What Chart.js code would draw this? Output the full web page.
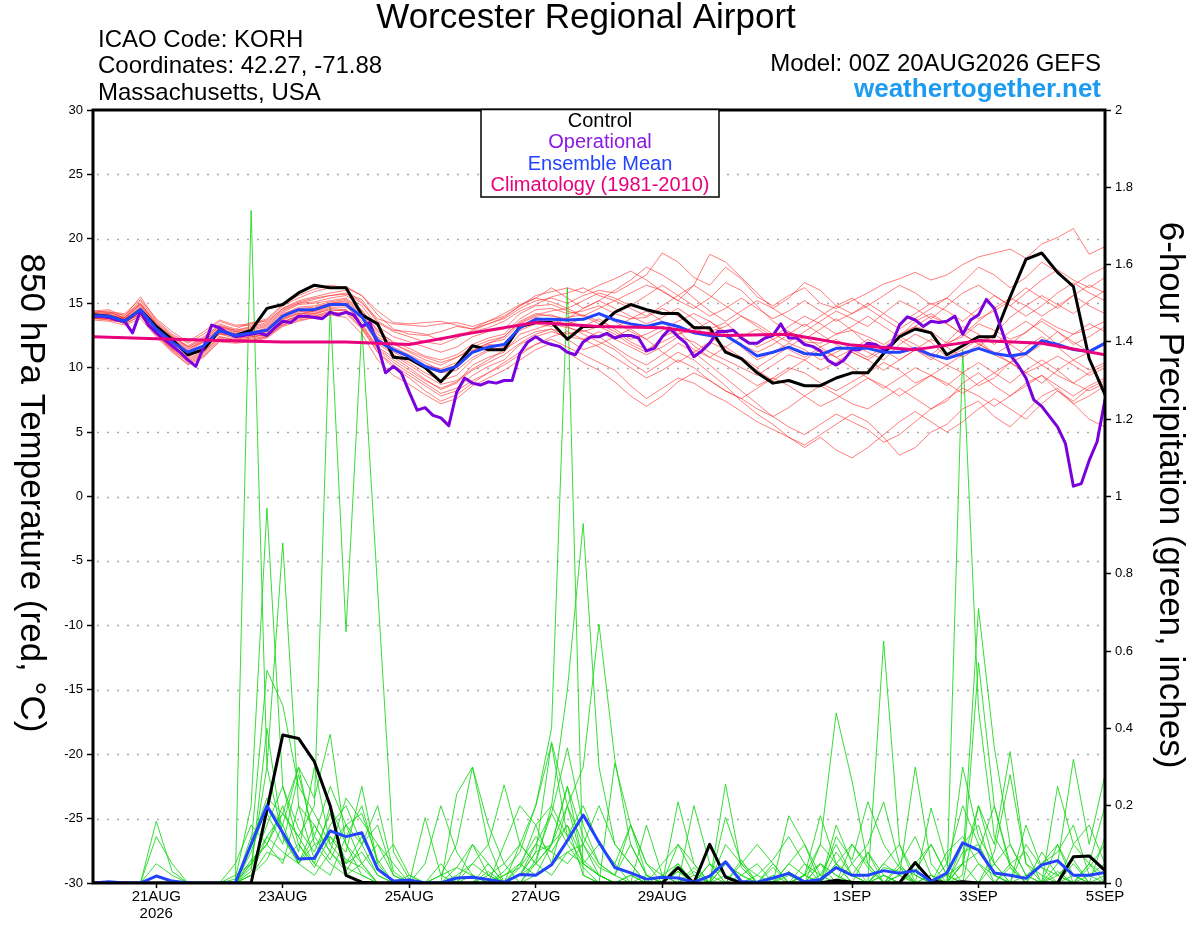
<!DOCTYPE html>
<html>
<head>
<meta charset="utf-8">
<script src="https://cdn.jsdelivr.net/npm/chart.js@4.4.1/dist/chart.umd.min.js"></script>
<style>
  html, body { margin: 0; padding: 0; background: #fff; }
  canvas { display: block; }
</style>
</head>
<body>
<canvas id="meteogram" width="1200" height="927"></canvas>
<script>
// x axis: hours after 00Z 20AUG2026
const tickHours = [24, 72, 120, 168, 216, 288, 336, 384];
const tickLabels = [['21AUG', '2026'], '23AUG', '25AUG', '27AUG', '29AUG', '1SEP', '3SEP', '5SEP'];
const tempTicks = [30, 25, 20, 15, 10, 5, 0, -5, -10, -15, -20, -25, -30];
const precipTicks = [2, 1.8, 1.6, 1.4, 1.2, 1, 0.8, 0.6, 0.4, 0.2, 0];

// 850 hPa temperature, 6-hourly (control, ensemble mean)
const tempControl = [
  14.1, 14.0, 13.6, 14.5, 13.2, 12.2, 11.0, 11.4, 12.9, 12.5, 12.9, 14.6, 14.9, 15.8, 16.4, 16.2, 16.2,
  14.1, 13.4, 10.8, 10.7, 10.0, 8.9, 10.2, 11.7, 11.4, 11.4, 13.2, 13.5, 13.5, 12.2, 13.2, 13.2,
  14.3, 14.9, 14.5, 14.2, 14.2, 13.1, 13.1, 11.2, 10.7, 9.6, 8.8, 9.0, 8.6, 8.6, 9.2, 9.6,
  9.6, 11.1, 12.4, 13.0, 12.7, 11.0, 11.7, 12.4, 12.4, 15.5, 18.4, 18.9, 17.4, 16.3, 10.7, 7.9
];
const tempMean = [
  14.05, 14.0, 13.6, 14.5, 13.0, 12.0, 11.2, 11.7, 12.9, 12.5, 12.7, 12.9, 14.0, 14.5, 14.5, 14.9, 14.9,
  13.95, 12.1, 11.4, 10.85, 10.1, 9.7, 10.1, 11.2, 11.6, 11.8, 13.1, 13.75, 13.75, 13.7, 13.75, 14.2,
  13.7, 13.4, 13.2, 13.5, 13.2, 12.7, 12.5, 12.5, 11.75, 10.9, 11.2, 11.6, 11.1, 11.0, 11.5, 11.5,
  11.5, 11.2, 11.2, 11.5, 11.0, 10.7, 11.1, 11.5, 11.1, 10.9, 11.1, 12.1, 11.8, 11.4, 11.25, 11.9
];
// operational run, 3-hourly
const tempOper = [
  14.0, 14.0, 13.9, 13.7, 13.6, 12.7, 14.4, 13.3, 12.7, 12.2, 11.7, 11.2, 10.6, 10.1, 11.6, 13.3, 13.1,
  12.7, 12.4, 12.5, 12.6, 12.7, 12.5, 13.1, 13.6, 13.5, 14.0, 14.0, 13.9, 13.8, 14.3, 14.1, 14.3,
  14.1, 13.2, 13.5, 11.75, 9.6, 10.1, 9.6, 8.1, 6.7, 6.9, 6.3, 6.1, 5.5, 8.1, 9.2, 8.8,
  8.65, 8.9, 8.8, 9.0, 9.0, 11.1, 12.0, 12.4, 12.0, 11.8, 11.65, 11.2, 11.0, 12.0, 12.4, 12.4,
  12.66, 12.3, 12.5, 12.5, 12.3, 11.3, 11.5, 12.4, 13.05, 12.4, 11.9, 10.85, 11.3, 11.9, 12.8, 12.8,
  12.9, 12.3, 11.9, 11.9, 12.3, 12.5, 13.4, 12.3, 12.3, 11.8, 11.65, 11.3, 10.55, 10.2, 10.6,
  11.4, 11.4, 11.9, 11.8, 11.4, 11.8, 13.3, 13.95, 13.7, 13.2, 13.6, 13.5, 13.6, 14.0, 12.6, 13.7,
  14.1, 15.3, 14.6, 12.8, 11.0, 10.2, 9.2, 7.5, 7.0, 6.2, 5.4, 4.1, 0.8, 1.0, 2.8, 4.25, 7.5
];
// 1981-2010 climatology, daily
const tempClimo = [12.4, 12.25, 12.1, 12.0, 12.0, 11.8, 12.7, 13.5, 13.2, 13.1, 12.5, 12.6, 11.75, 11.4, 12.1, 11.9, 11.0];

// ensemble members, 6-hourly
const tempMembers = [
  [14.2,14.3,13.9,15.2,13.6,12.5,11.6,12.3,13.4,13.0,13.5,13.6,14.6,15.2,15.5,15.8,16.0,
   15.1,13.5,12.8,12.4,12.0,11.8,12.3,12.9,13.4,13.8,14.6,15.2,15.4,15.0,15.6,16.0,
   15.8,16.5,17.2,18.9,18.2,17.0,16.4,17.8,16.9,15.5,14.8,15.6,16.2,15.0,14.6,15.2,
   15.8,16.5,16.9,17.4,16.8,17.2,18.0,18.6,18.9,19.2,18.5,19.6,20.1,20.8,18.8,19.4],
  [13.8,13.9,13.4,14.0,12.6,11.4,10.4,11.0,12.2,12.0,12.1,12.4,13.3,13.8,14.0,14.3,14.2,
   13.0,11.2,10.2,9.4,8.6,7.8,8.2,9.0,9.6,10.2,11.0,11.8,12.2,11.6,11.0,10.4,
   9.8,8.6,7.6,8.4,9.2,8.8,8.0,7.4,6.6,5.8,5.2,4.6,4.0,4.8,5.6,6.4,
   5.8,4.6,3.2,3.8,5.0,5.6,6.8,7.4,6.2,5.4,6.6,7.8,8.4,7.2,6.0,5.4],
  [14.1,14.0,13.8,14.8,13.2,12.3,11.5,12.0,13.1,12.8,12.9,13.2,14.3,14.9,15.0,15.2,15.4,
   14.5,12.8,12.0,11.5,10.9,10.6,11.0,11.8,12.3,12.6,13.8,14.5,14.6,14.2,14.4,14.8,
   14.2,13.8,13.9,14.6,14.0,13.2,13.0,13.5,12.4,11.6,12.2,12.8,12.0,11.9,12.6,12.9,
   12.4,11.8,12.6,13.2,12.8,11.9,12.4,13.4,12.9,12.2,12.7,13.8,13.1,12.6,13.0,13.6],
  [13.9,13.7,13.5,14.2,12.8,11.6,10.8,11.5,12.6,12.3,12.4,12.6,13.6,14.0,14.1,14.6,14.5,
   13.4,11.6,10.8,10.0,9.1,8.3,8.8,10.2,10.8,11.2,12.6,13.0,13.4,13.1,12.8,13.2,
   12.6,11.8,11.2,12.4,12.9,11.7,10.8,10.2,9.4,8.6,9.2,10.0,9.6,8.8,8.2,8.9,
   9.6,10.4,9.8,8.8,9.4,10.2,9.6,8.6,9.2,10.4,11.0,10.2,9.4,8.8,9.6,10.2],
  [14.4,14.5,14.0,15.5,13.7,12.6,11.9,12.6,13.6,13.2,13.3,13.7,14.8,15.4,15.9,16.2,16.3,
   15.6,14.1,13.0,12.6,12.5,12.8,13.2,13.0,13.4,13.9,14.8,15.6,15.9,16.2,15.8,16.4,
   16.9,17.5,16.8,15.9,15.2,14.6,15.4,16.6,16.0,14.8,13.6,12.8,12.2,13.0,13.8,12.9,
   11.8,11.2,12.4,13.6,14.2,13.4,12.6,11.8,12.6,13.9,14.8,15.6,14.9,14.2,15.2,16.0],
  [14.0,13.8,13.7,14.6,13.0,11.9,11.0,11.8,12.8,12.6,12.5,12.8,13.9,14.4,14.3,14.8,14.9,
   14.0,12.2,11.0,10.4,9.6,9.0,9.4,10.6,11.3,11.6,12.9,13.4,13.2,13.9,14.1,13.6,
   13.1,13.8,14.4,13.6,12.6,12.9,13.6,12.8,11.6,10.6,11.2,11.9,11.4,10.6,11.2,11.8,
   11.2,10.6,11.8,12.6,12.0,10.8,11.4,12.2,11.0,10.4,11.6,12.4,11.6,10.6,11.2,12.0],
  [13.7,13.6,13.3,13.8,12.4,11.2,10.3,10.9,12.0,11.9,12.0,12.3,13.2,13.6,13.9,14.1,13.9,
   12.6,10.6,9.4,8.7,7.9,7.2,7.6,8.6,9.2,9.8,10.6,11.4,11.9,11.2,10.4,9.8,
   8.9,7.8,7.0,7.8,8.9,9.6,9.0,8.2,7.6,6.8,6.2,6.9,7.8,8.6,7.9,7.2,
   6.8,7.6,8.4,7.6,6.8,7.4,8.8,9.6,8.6,7.8,8.6,9.4,8.2,7.2,7.8,8.6],
  [14.3,14.2,14.1,15.0,13.4,12.2,11.4,12.2,13.2,12.9,13.1,13.4,14.5,15.0,15.3,15.6,15.7,
   15.3,13.6,12.9,12.8,12.6,12.1,12.6,12.8,13.1,13.6,14.4,14.9,15.5,15.8,16.2,15.6,
   15.2,15.8,16.4,16.0,15.2,16.4,18.8,18.2,17.0,15.8,14.6,15.4,16.6,16.0,14.8,14.2,
   14.8,15.6,16.4,15.8,14.9,15.4,16.6,17.8,17.2,16.2,17.0,18.2,17.4,16.4,17.2,17.8],
  [14.0,14.1,13.6,14.4,12.9,12.0,11.3,11.6,12.7,12.4,12.6,12.9,13.8,14.3,14.6,15.0,15.1,
   14.2,12.4,11.6,11.0,10.4,9.8,10.2,11.2,11.8,11.7,13.2,13.9,13.6,13.4,13.8,14.2,
   13.6,12.8,12.2,12.9,13.6,14.2,13.6,12.6,11.8,11.2,11.8,12.6,13.4,12.6,11.8,11.2,
   10.6,11.4,12.2,11.4,10.6,11.8,12.6,11.9,11.0,11.8,12.8,13.6,12.8,11.8,12.4,13.2],
  [13.8,13.9,13.6,14.3,12.7,11.5,10.6,11.2,12.4,12.1,12.3,12.6,13.5,14.1,14.4,14.9,14.8,
   13.6,11.9,11.0,10.2,9.4,8.7,9.0,9.9,10.6,11.4,12.2,12.8,13.0,12.6,12.9,12.4,
   11.6,10.8,10.2,11.0,11.9,11.2,10.2,9.2,8.2,7.2,6.2,5.4,4.8,5.6,6.4,5.8,
   5.2,4.2,4.8,5.8,6.8,7.6,8.4,7.8,7.0,7.8,8.8,9.4,8.6,7.8,8.6,9.2],
  [14.2,14.0,13.9,14.9,13.3,12.2,11.3,12.1,13.0,12.7,12.8,13.0,14.1,14.7,14.8,15.1,15.3,
   14.4,12.9,11.9,11.2,10.6,10.2,10.8,11.6,12.1,12.4,13.6,14.2,14.0,13.8,14.6,15.2,
   14.6,14.0,13.4,13.9,14.6,13.8,12.8,13.2,14.0,13.4,12.6,12.0,12.8,13.6,14.4,13.8,
   13.2,14.2,15.2,14.6,13.8,14.8,15.8,16.4,15.6,14.8,15.8,16.8,17.6,16.8,16.2,17.0],
  [13.9,13.8,13.6,14.1,12.5,11.3,10.2,10.8,12.1,12.2,12.2,12.5,13.4,13.9,14.0,14.4,14.5,
   13.2,11.4,10.4,9.6,8.8,8.0,8.4,9.4,10.1,10.6,11.8,12.4,12.8,12.4,12.2,12.8,
   12.2,11.6,11.0,11.6,12.4,12.0,11.2,10.6,10.0,9.4,10.2,11.0,10.6,9.8,10.4,11.2,
   10.6,9.8,10.6,11.4,10.8,10.2,11.0,11.8,11.2,10.4,9.6,10.2,10.9,10.2,9.4,10.0],
  [14.3,14.4,13.8,15.0,13.5,12.4,11.7,12.4,13.3,12.9,13.2,13.5,14.6,15.1,15.4,15.6,15.8,
   15.0,13.8,13.4,13.3,13.2,13.4,13.5,13.2,13.6,14.0,14.8,15.4,16.2,15.4,14.6,15.2,
   16.0,16.8,17.8,17.2,16.4,15.4,14.4,13.6,14.4,15.2,14.6,13.8,13.2,14.0,14.8,15.4,
   14.6,13.8,13.0,13.8,14.6,15.4,14.6,13.8,14.4,15.2,16.2,15.4,14.6,15.6,16.4,15.8],
  [14.0,13.9,13.5,14.5,12.9,11.8,11.1,11.6,12.7,12.5,12.6,12.7,13.7,14.2,14.2,14.7,14.7,
   13.8,12.0,11.2,10.6,10.0,9.6,9.8,10.8,11.4,11.9,13.0,13.6,13.8,13.2,12.6,12.0,
   11.4,10.4,9.6,10.4,11.2,10.6,9.6,8.6,7.4,6.4,5.6,4.6,3.8,4.6,3.6,3.0,
   3.8,4.8,5.8,6.6,5.8,5.0,5.8,6.8,7.6,6.8,6.0,7.2,8.2,7.4,8.4,9.0],
  [14.1,14.2,13.7,14.7,13.1,12.1,11.2,12.0,12.9,12.5,12.7,13.1,14.2,14.6,14.7,15.0,15.2,
   14.3,12.6,11.8,11.3,10.8,10.4,10.8,11.4,11.9,12.2,13.4,14.0,14.1,13.6,13.2,13.8,
   13.0,12.2,12.6,13.2,12.4,11.4,10.8,11.6,12.4,13.0,12.2,11.4,10.8,11.6,12.2,11.4,
   10.8,11.6,12.4,11.8,11.0,12.0,13.2,12.6,11.8,12.8,13.6,12.8,11.8,12.6,13.4,12.8],
  [13.8,13.7,13.5,14.2,12.6,11.5,10.7,11.3,12.4,12.2,12.4,12.6,13.5,14.0,14.2,14.5,14.4,
   13.3,11.5,10.6,9.8,9.0,8.4,8.9,9.8,10.4,11.0,11.9,12.6,13.0,12.2,11.4,11.8,
   12.4,13.0,12.2,11.2,10.4,11.2,12.0,11.4,10.6,9.8,9.0,9.8,10.6,11.4,10.8,10.0,
   9.2,8.4,9.2,10.0,9.4,8.6,9.6,10.4,9.6,8.8,9.8,10.6,9.8,8.8,8.2,8.8],
  [14.4,14.3,14.2,15.3,13.8,12.8,12.0,12.8,13.7,13.3,13.4,13.8,14.9,15.6,16.1,16.4,16.2,
   15.6,14.4,13.5,13.4,13.5,13.6,13.3,13.0,13.6,14.2,14.9,15.4,15.1,14.6,15.2,15.8,
   15.4,14.8,15.6,16.4,15.6,14.8,14.0,14.6,15.4,14.6,13.8,14.4,15.2,14.4,13.6,14.2,
   15.0,14.2,13.4,14.2,15.0,14.4,13.6,14.6,15.6,14.8,14.0,14.8,15.8,16.6,15.8,15.2],
  [14.0,13.9,13.8,14.4,12.8,11.7,10.9,11.5,12.6,12.5,12.7,12.8,13.8,14.2,14.4,14.8,15.0,
   14.0,12.3,11.3,10.8,10.2,9.9,10.4,11.3,11.9,12.4,13.5,14.1,14.4,14.6,14.0,13.4,
   12.8,12.0,11.4,12.0,12.6,13.2,12.4,11.6,10.8,10.0,10.8,11.6,12.4,11.6,10.8,11.4,
   12.2,11.4,10.6,11.4,12.2,11.6,10.8,11.6,12.6,11.8,11.0,11.8,12.8,12.0,11.2,11.8],
  [13.9,14.0,13.4,14.0,12.6,11.4,10.5,11.1,12.3,12.0,12.1,12.4,13.3,13.7,13.9,14.2,14.3,
   13.1,11.2,10.0,9.2,8.2,7.4,7.9,8.8,9.6,10.4,11.2,11.8,12.4,12.8,12.2,11.6,
   10.8,10.0,9.2,9.8,10.6,10.0,9.0,8.2,7.6,8.4,9.2,8.6,7.8,7.0,7.6,8.4,
   9.2,8.6,7.8,8.6,9.4,8.8,8.0,8.8,9.6,10.4,9.6,8.8,9.8,10.6,9.8,10.4],
  [14.2,14.1,13.9,14.9,13.4,12.4,11.6,12.2,13.2,12.8,13.0,13.3,14.4,15.0,15.1,15.4,15.6,
   14.8,13.2,12.4,12.0,11.6,11.2,11.6,12.4,12.8,13.0,14.2,14.8,14.9,14.4,14.0,14.6,
   15.2,14.6,14.0,14.8,15.6,16.4,15.6,14.8,14.0,13.2,12.4,13.2,14.0,13.4,12.6,13.2,
   14.0,13.2,12.4,13.2,14.0,13.4,12.6,13.6,14.6,15.4,14.8,14.0,14.8,15.6,14.8,14.2]
];

// 6-hour precipitation (inches), 6-hourly
const precipControl = [
  0, 0, 0, 0, 0, 0, 0, 0, 0, 0, 0, 0.19, 0.383, 0.374, 0.314, 0.2, 0.02,
  0.002, 0, 0, 0, 0, 0, 0, 0, 0, 0, 0, 0, 0, 0, 0, 0,
  0, 0, 0, 0, 0.04, 0, 0.1, 0.015, 0, 0, 0, 0, 0, 0, 0.007, 0.002,
  0, 0, 0, 0.053, 0.006, 0, 0.003, 0, 0, 0, 0, 0, 0, 0.068, 0.07, 0.032
];
const precipMean = [
  0, 0.003, 0, 0, 0.018, 0.005, 0, 0, 0, 0, 0.1, 0.2, 0.13, 0.062, 0.064, 0.135, 0.12,
  0.13, 0.036, 0.005, 0.008, 0, 0, 0.013, 0.015, 0.009, 0.002, 0.022, 0.02, 0.047, 0.11, 0.176, 0.105,
  0.04, 0.026, 0.01, 0.015, 0.013, 0.002, 0.018, 0.055, 0.004, 0.002, 0.013, 0.025, 0.003, 0.009, 0.04, 0.02,
  0.02, 0.032, 0.025, 0.032, 0.004, 0.026, 0.104, 0.085, 0.026, 0.02, 0.012, 0.047, 0.058, 0.02, 0.02, 0.027
];
const precipMembers = [
  [0,0,0,0,0,0,0,0,0,0,1.74,0.3,0.12,0.05,0.02,0.08,0.04,
   0.02,0,0,0,0,0,0.04,0.1,0.02,0,0.05,0.12,0.08,0.15,0.06,0.02,
   0,0,0.02,0,0,0.03,0,0.05,0.02,0,0,0.03,0,0,0.08,0.02,
   0,0,0,0.03,0.1,0.02,0,0,0,0.04,0,0,0.02,0.06,0,0],
  [0,0,0,0,0,0,0,0,0,0.02,0.05,0.1,0.18,0.12,0.2,1.49,0.65,
   1.44,0.76,0.08,0.01,0,0,0,0,0.03,0,0,0.06,0.18,0.1,0.04,0,
   0,0.02,0,0,0,0,0.05,0,0,0,0,0,0.02,0.1,0.05,0,
   0,0,0.04,0,0,0,0,0.2,0.05,0,0,0,0.03,0,0,0],
  [0,0,0,0,0.16,0.03,0,0,0,0.01,0.2,0.97,0.25,0.1,0.05,0.02,0.12,
   0.2,0.05,0,0,0,0,0,0,0,0.03,0.08,0.2,0.36,0.12,0.05,0.02,
   0,0,0,0.02,0.05,0,0,0,0,0,0.04,0,0,0.05,0.02,0,
   0,0,0,0,0.02,0,0.08,0.1,0.02,0,0,0,0,0,0.04,0.1],
  [0,0,0,0,0.12,0.05,0,0,0,0,0.05,0.3,0.88,0.2,0.06,0.15,0.2,
   0.1,0.02,0,0,0,0.02,0.1,0.3,0.15,0.05,0,0.02,0.05,0.08,0.1,0.04,
   0.02,0,0,0,0.03,0,0,0,0,0.02,0.06,0.12,0.05,0,0,0.1,
   0.04,0,0.02,0,0,0,0.05,0,0,0,0.1,0.04,0,0,0.02,0.05],
  [0,0,0,0,0,0,0,0,0,0,0.08,0.2,0.15,0.3,0.1,0.05,0.02,
   0.05,0,0,0,0,0,0,0,0.02,0.05,0.1,0.2,0.4,1.54,0.02,0,
   0,0,0,0,0,0.04,0,0.02,0,0,0,0,0.02,0,0.15,0.05,
   0,0.02,0,0,0,0,1.38,0.45,0.12,0.05,0,0,0,0,0,0],
  [0,0,0,0,0,0,0,0,0,0,0.1,0.55,0.46,0.25,0.18,0.1,0.05,
   0.12,0.04,0,0,0,0,0,0,0,0.02,0.04,0.15,0.2,0.5,0.93,0.3,
   0.1,0.05,0,0,0,0.02,0,0,0.06,0,0,0.02,0,0.05,0,0,
   0,0.04,0.03,0,0,0,0.05,0.71,0.35,0.1,0.02,0,0,0,0,0],
  [0,0,0,0,0,0,0,0,0,0,0.02,0.12,0.18,0.3,0.22,0.385,0.1,
   0.05,0,0,0,0,0,0,0,0,0,0.02,0.08,0.1,0.2,0.3,0.67,
   0.32,0.1,0.02,0,0,0,0,0,0,0,0,0,0,0.02,0,0,
   0,0.626,0.1,0,0,0,0.02,0.57,0.2,0.04,0,0,0,0.02,0,0],
  [0,0,0,0,0,0,0,0,0,0,0.03,0.4,0.12,0.05,0.15,0.08,0.22,
   0.16,0.1,0.05,0,0,0,0.23,0.3,0.1,0,0,0.05,0.1,0.25,0.12,0.05,
   0.02,0.15,0.05,0.02,0,0.2,0.05,0,0,0,0.02,0,0,0.1,0.44,0.264,
   0.05,0,0.02,0.3,0.05,0,0,0,0.05,0.1,0.02,0,0.05,0.32,0.1,0.28],
  [0,0,0,0,0,0,0,0,0,0,0.12,0.18,0.1,0.28,0.12,0.06,0.15,
   0.1,0.2,0.03,0,0.169,0.02,0,0,0.05,0,0.02,0.08,0.365,0.2,0.05,0.1,
   0.05,0.15,0.02,0,0.03,0,0,0.256,0.04,0,0,0.05,0.02,0,0.12,0.06,
   0.21,0.1,0.04,0.02,0,0.08,0.12,0.05,0,0,0.15,0.04,0.02,0,0,0],
  [0,0,0,0,0.05,0.02,0,0,0,0,0.02,0.08,0.06,0.1,0.04,0.12,0.08,
   0.25,0.05,0.1,0.02,0,0,0.02,0.05,0.1,0.254,0.1,0.05,0.1,0.15,0.02,0,
   0.31,0.15,0.05,0,0.21,0.05,0,0.17,0.05,0.02,0,0,0.02,0.174,0.05,0,
   0.08,0.02,0,0,0.194,0.05,0,0,0.08,0.28,0.05,0,0.1,0,0.05,0.02],
  [0,0,0,0,0,0,0,0,0,0,0.04,0.15,0.25,0.14,0.08,0.18,0.05,
   0.08,0.02,0,0,0.05,0.2,0.08,0.02,0,0,0.1,0.05,0.02,0.08,0.05,0.02,
   0,0,0.15,0.02,0,0,0.05,0.02,0,0,0,0.174,0.1,0,0,0.05,
   0.1,0.21,0.05,0,0,0.02,0.05,0.2,0.1,0.34,0.05,0.02,0,0.1,0.15,0.05],
  [0,0,0,0,0,0,0,0,0,0,0.06,0.1,0.2,0.08,0.3,0.1,0.15,
   0.05,0.1,0.02,0,0,0,0,0.05,0.02,0,0.04,0.1,0.18,0.35,0.15,0.05,
   0.02,0.1,0.02,0,0.05,0,0,0.1,0.05,0,0.05,0,0.05,0.02,0.1,0.02,
   0,0.05,0.1,0.02,0,0.05,0.2,0.1,0,0.05,0.08,0,0.25,0.1,0.05,0.2],
  [0,0,0,0,0.02,0,0,0,0,0,0.1,0.22,0.18,0.12,0.05,0.2,0.1,
   0.02,0,0,0.02,0,0,0,0.02,0,0.1,0.2,0.15,0.05,0.2,0.1,0.02,
   0,0,0,0.05,0.1,0.02,0,0,0.05,0.1,0.05,0,0,0,0.05,0.02,
   0.08,0,0.05,0.12,0.02,0,0.1,0.15,0.02,0,0,0.05,0.1,0.02,0,0.12],
  [0,0,0,0,0,0,0,0,0,0,0.02,0.06,0.15,0.05,0.1,0.12,0.06,
   0.04,0,0,0,0,0.05,0,0.1,0.05,0,0.02,0.05,0.2,0.12,0.2,0.1,
   0.05,0,0,0,0,0,0,0,0.02,0.05,0,0.05,0.1,0.02,0,0,
   0,0.02,0,0.05,0.1,0.02,0,0.05,0.02,0,0.02,0.05,0.08,0.15,0.02,0],
  [0,0,0,0,0,0,0,0,0,0.05,0.15,0.1,0.05,0.2,0.15,0.08,0.03,
   0.1,0.15,0.02,0,0,0,0,0,0,0.02,0.05,0.02,0.1,0.25,0.05,0.02,
   0,0.02,0,0,0.1,0.05,0,0.05,0.02,0,0,0,0,0,0.05,0.1,
   0.05,0,0,0,0.02,0,0.3,0.12,0.05,0,0,0.08,0.02,0,0.05,0],
  [0,0,0,0,0,0,0,0,0,0,0.05,0.12,0.08,0.05,0.12,0.25,0.15,
   0.18,0.06,0,0,0,0.02,0.04,0.02,0,0,0.02,0.1,0.08,0.05,0.1,0.2,
   0.1,0.05,0,0,0,0,0.02,0,0,0,0,0,0.02,0.05,0.02,0,
   0,0.05,0.02,0,0,0,0.05,0.08,0.2,0.05,0,0,0,0.05,0,0.02]
];

const FONT = '"Liberation Sans", Arial, Helvetica, sans-serif';

function onHours(arr, step) {
  return arr.map(function (v, i) { return { x: i * step, y: v }; });
}

function thinLine(arr, color, axis, order) {
  return {
    data: onHours(arr, 6),
    yAxisID: axis,
    borderColor: color,
    borderWidth: 1,
    pointRadius: 0,
    tension: 0,
    order: order,
  };
}

function thickLine(data, color, axis, order) {
  return {
    data: data,
    yAxisID: axis,
    borderColor: color,
    borderWidth: 3,
    pointRadius: 0,
    tension: 0,
    borderJoinStyle: 'round',
    order: order,
  };
}

let datasets = [];
precipMembers.forEach(function (m) { datasets.push(thinLine(m, 'rgba(20,215,20,0.85)', 'precip', 20)); });
tempMembers.forEach(function (m) { datasets.push(thinLine(m, 'rgba(255,40,40,0.6)', 'temp', 19)); });
datasets.push(thickLine(onHours(precipControl, 6), '#000000', 'precip', 8));
datasets.push(thickLine(onHours(precipMean, 6), '#2244ff', 'precip', 7));
datasets.push(thickLine(onHours(tempControl, 6), '#000000', 'temp', 5));
datasets.push(thickLine(onHours(tempOper, 3), '#7a00dc', 'temp', 4));
datasets.push(thickLine(onHours(tempMean, 6), '#2244ff', 'temp', 3));
datasets.push(thickLine(onHours(tempClimo, 24), '#e8007c', 'temp', 2));

// grid, frame, titles and legend box
const decor = {
  id: 'decor',
  beforeDatasetsDraw(chart) {
    const ctx = chart.ctx;
    const a = chart.chartArea;
    ctx.save();
    ctx.strokeStyle = '#a8a8a8';
    ctx.lineWidth = 1.5;
    ctx.setLineDash([2, 8]);
    tempTicks.forEach(function (v) {
      if (v === 30 || v === -30) return;
      const y = Math.round(chart.scales.temp.getPixelForValue(v)) + 0.5;
      ctx.beginPath();
      ctx.moveTo(a.left + 4, y);
      ctx.lineTo(a.right, y);
      ctx.stroke();
    });
    ctx.restore();
  },
  afterDatasetsDraw(chart) {
    const ctx = chart.ctx;
    const a = chart.chartArea;
    ctx.save();
    ctx.strokeStyle = '#000';
    ctx.lineWidth = 3;
    ctx.strokeRect(a.left, a.top, a.right - a.left, a.bottom - a.top);
    ctx.restore();
  },
  afterDraw(chart) {
    const ctx = chart.ctx;
    ctx.save();
    ctx.fillStyle = '#000';
    ctx.textBaseline = 'middle';

    ctx.textAlign = 'center';
    ctx.font = '35px ' + FONT;
    ctx.fillText('Worcester Regional Airport', 586, 18);

    ctx.textAlign = 'left';
    ctx.font = '24px ' + FONT;
    ctx.fillText('ICAO Code: KORH', 98, 40);
    ctx.fillText('Coordinates: 42.27, -71.88', 98, 66);
    ctx.fillText('Massachusetts, USA', 98, 93);

    ctx.textAlign = 'right';
    ctx.fillText('Model: 00Z 20AUG2026 GEFS', 1101, 64);
    ctx.font = 'bold 26px ' + FONT;
    ctx.fillStyle = '#1d9bf0';
    ctx.fillText('weathertogether.net', 1101, 90);

    // legend box
    ctx.fillStyle = '#fff';
    ctx.fillRect(481, 110, 238, 87);
    ctx.strokeStyle = '#000';
    ctx.lineWidth = 1.5;
    ctx.strokeRect(481, 109.5, 238, 87.5);
    ctx.textAlign = 'center';
    ctx.font = '20px ' + FONT;
    const legend = [
      ['Control', '#000000'],
      ['Operational', '#8a1be0'],
      ['Ensemble Mean', '#2244ff'],
      ['Climatology (1981-2010)', '#e8007c'],
    ];
    legend.forEach(function (row, k) {
      ctx.fillStyle = row[1];
      ctx.fillText(row[0], 600, 121 + k * 21.5);
    });

    // rotated axis titles
    ctx.fillStyle = '#000';
    ctx.font = '35px ' + FONT;
    ctx.save();
    ctx.translate(31, 493);
    ctx.rotate(Math.PI / 2);
    ctx.fillText('850 hPa Temperature (red, \u00B0C)', 0, 0);
    ctx.restore();
    ctx.save();
    ctx.translate(1170, 495);
    ctx.rotate(Math.PI / 2);
    ctx.fillText('6-hour Precipitation (green, inches)', 0, 0);
    ctx.restore();

    ctx.restore();
  },
};

new Chart(document.getElementById('meteogram'), {
  type: 'line',
  data: { datasets: datasets },
  plugins: [decor],
  options: {
    responsive: false,
    animation: false,
    devicePixelRatio: 1,
    layout: { padding: { top: 110, left: 0, right: 0, bottom: 0 } },
    plugins: {
      legend: { display: false },
      tooltip: { enabled: false },
    },
    scales: {
      x: {
        type: 'linear',
        min: 0,
        max: 384,
        afterFit: function (s) { s.height = 44; },
        afterBuildTicks: function (s) {
          s.ticks = tickHours.map(function (h) { return { value: h }; });
        },
        ticks: {
          autoSkip: false,
          maxRotation: 0,
          padding: 1,
          color: '#000',
          font: { family: FONT, size: 15, lineHeight: 1.1 },
          callback: function (v) { return tickLabels[tickHours.indexOf(v)]; },
        },
        grid: { drawOnChartArea: false, tickLength: 5, tickColor: '#000', tickWidth: 1.5 },
        border: { display: false },
      },
      temp: {
        type: 'linear',
        position: 'left',
        min: -30,
        max: 30,
        afterFit: function (s) { s.width = 93; },
        afterBuildTicks: function (s) {
          s.ticks = tempTicks.map(function (v) { return { value: v }; });
        },
        ticks: {
          padding: 4,
          color: '#000',
          font: { family: FONT, size: 13 },
        },
        grid: { drawOnChartArea: false, tickLength: 6, tickColor: '#000', tickWidth: 1.5 },
        border: { display: false },
      },
      precip: {
        type: 'linear',
        position: 'right',
        min: 0,
        max: 2,
        afterFit: function (s) { s.width = 95; },
        afterBuildTicks: function (s) {
          s.ticks = precipTicks.map(function (v) { return { value: v }; });
        },
        ticks: {
          padding: 4,
          color: '#000',
          font: { family: FONT, size: 13 },
          callback: function (v) { return String(v); },
        },
        grid: { drawOnChartArea: false, tickLength: 6, tickColor: '#000', tickWidth: 1.5 },
        border: { display: false },
      },
    },
  },
});
</script>
</body>
</html>
